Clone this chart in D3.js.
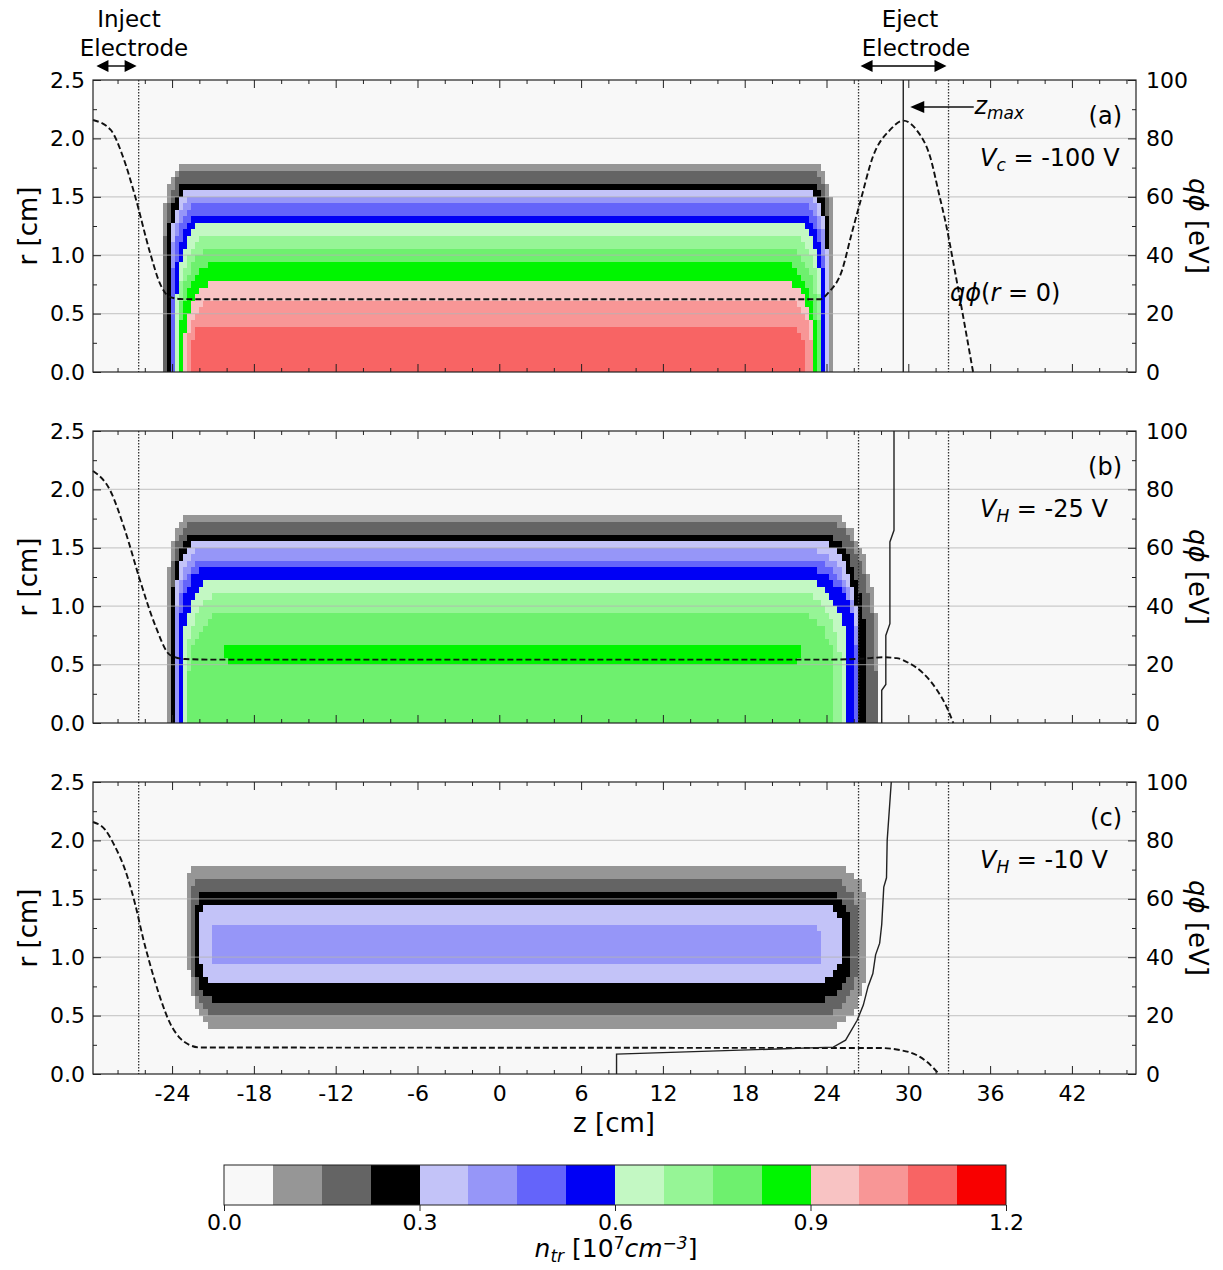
<!DOCTYPE html>
<html>
<head>
<meta charset="utf-8">
<script src="https://cdn.jsdelivr.net/npm/d3@7"></script>
<style>
  body { margin: 0; background: #fff; }
  text { font-family: "DejaVu Sans", sans-serif; fill: #000; }
</style>
</head>
<body>
<svg id="fig" width="1223" height="1270"></svg>
<script>
// colour levels of the density map, 0 .. 1.2 in steps of 0.075
const levelColors = ["#f8f8f8", "#969696", "#646464", "#000000",
                     "#c3c3f8", "#9696f8", "#6464fa", "#0000f5",
                     "#c3f8c3", "#96f596", "#6ef06e", "#00f500",
                     "#f8c3c3", "#f89696", "#f86464", "#f80000"];
const cbTicks = [0, 0.3, 0.6, 0.9, 1.2];

const zTicks = [-24, -18, -12, -6, 0, 6, 12, 18, 24, 30, 36, 42];
const rTicks = [0, 0.5, 1.0, 1.5, 2.0, 2.5];
const qTicks = [0, 20, 40, 60, 80, 100];
const electrodeZ = [-26.45, 26.35, 32.95];

// density contours, one row per level:
// level, rBottom, rTop, zLeft, zRight, topLeft(dz,dr), topRight(dz,dr), bottomLeft(dz,dr), bottomRight(dz,dr)
const contoursA = [
  [1, 0, 1.79, -24.7, 24.5, 1.8, 0.55, 1.7, 0.5, 0, 0, 0, 0],
  [2, 0, 1.74, -24.55, 24.3, 1.9, 0.6, 1.6, 0.55, 0, 0, 0, 0],
  [3, 0, 1.63, -24.4, 24.25, 1.7, 0.6, 1.5, 0.6, 0, 0, 0, 0],
  [4, 0, 1.57, -24.2, 24.1, 1.7, 0.65, 1.5, 0.65, 0, 0, 0, 0],
  [5, 0, 1.51, -24.1, 24.0, 1.7, 0.7, 1.5, 0.7, 0, 0, 0, 0],
  [6, 0, 1.45, -24.0, 23.9, 1.8, 0.75, 1.6, 0.75, 0, 0, 0, 0],
  [7, 0, 1.35, -23.9, 23.9, 1.9, 0.75, 1.7, 0.8, 0, 0, 0, 0],
  [8, 0, 1.30, -23.7, 23.7, 2.1, 0.8, 1.9, 0.85, 0, 0, 0, 0],
  [9, 0, 1.19, -23.6, 23.6, 2.4, 0.75, 2.1, 0.8, 0, 0, 0, 0],
  [10, 0, 1.07, -23.5, 23.5, 2.7, 0.7, 2.4, 0.8, 0, 0, 0, 0],
  [11, 0, 0.97, -23.4, 23.4, 3.2, 0.65, 2.8, 0.85, 0, 0, 0, 0],
  [12, 0, 0.79, -23.1, 23.1, 2.6, 0.55, 2.4, 0.6, 0, 0, 0, 0],
  [13, 0, 0.62, -22.8, 22.9, 2.0, 0.4, 1.9, 0.45, 0, 0, 0, 0],
  [14, 0, 0.41, -22.55, 22.3, 1.0, 0.2, 1.2, 0.2, 0, 0, 0, 0]
];
const contoursB = [
  [1, 0, 1.78, -24.3, 27.95, 1.6, 0.55, 3.7, 1.35, 0, 0, 0, 0],
  [2, 0, 1.72, -24.15, 27.65, 1.7, 0.6, 3.6, 1.3, 0, 0, 0, 0],
  [3, 0, 1.61, -24.0, 26.95, 1.6, 0.6, 3.2, 1.05, 0, 0, 0, 0],
  [4, 0, 1.56, -23.85, 26.35, 1.6, 0.65, 3.0, 0.85, 0, 0, 0, 0],
  [5, 0, 1.48, -23.75, 26.2, 1.7, 0.7, 3.2, 0.8, 0, 0, 0, 0],
  [6, 0, 1.40, -23.65, 26.15, 1.8, 0.7, 3.4, 0.75, 0, 0, 0, 0],
  [7, 0, 1.32, -23.55, 26.1, 1.9, 0.7, 3.7, 0.6, 0, 0, 0, 0],
  [8, 0, 1.23, -23.25, 25.5, 2.2, 0.7, 3.4, 0.6, 0, 0, 0, 0],
  [9, 0, 1.12, -23.0, 25.0, 2.6, 0.7, 3.2, 0.6, 0, 0, 0, 0],
  [10, 0, 0.96, -22.8, 24.6, 2.9, 0.6, 3.0, 0.5, 0, 0, 0, 0],
  [11, 0.52, 0.67, -20.2, 22.2, 0.4, 0.05, 0.6, 0.05, 0.4, 0.05, 0.6, 0.05]
];
const contoursC = [
  [1, 0.39, 1.78, -22.9, 27.0, 1.0, 0.15, 2.5, 0.35, 1.9, 0.8, 3.0, 0.6],
  [2, 0.50, 1.67, -22.6, 26.3, 0.8, 0.15, 2.2, 0.35, 1.6, 0.55, 2.6, 0.5],
  [3, 0.62, 1.56, -22.3, 25.8, 0.9, 0.2, 2.0, 0.3, 1.5, 0.4, 2.5, 0.4],
  [4, 0.79, 1.45, -22.0, 25.2, 0.8, 0.2, 1.8, 0.2, 1.0, 0.3, 2.0, 0.3],
  [5, 0.95, 1.28, -21.1, 23.7, 0.6, 0.07, 1.0, 0.1, 0.5, 0.05, 0.5, 0.05]
];

// on-axis potential q*phi(r=0) [eV] along z [cm]
const potZA = [-29.8, -28.5, -27.6, -26.7, -25.6, -24.9, -24.2, -23.4, -22, 0, 22, 23.5, 24.2, 25.1, 25.85, 26.46, 27.4, 28.66, 29.63, 30.6, 31.6, 32.3, 32.7, 33.4, 34.2, 34.75];
const potA  = [86.3, 82.9, 73.7, 60, 40.6, 30.4, 25.8, 25.0, 24.9, 24.9, 24.9, 24.9, 27.5, 34.3, 47.5, 58, 73.7, 82.9, 86.1, 82.9, 73.7, 60, 52, 35, 14.4, 0];
const potZB = [-29.8, -28.56, -27.46, -26.36, -25.25, -24.15, -23.05, -21, 0, 24, 26.5, 28.2, 29.15, 30.1, 31.1, 32.1, 32.8, 33.3];
const potB  = [86.3, 79.8, 66.1, 49, 33.6, 23.3, 21.9, 21.7, 21.7, 21.7, 22.0, 22.5, 22.2, 20.4, 17, 11.3, 5.6, 0];
const potZC = [-29.8, -28.9, -28.2, -27.45, -26.7, -26.1, -25.6, -24.9, -24.15, -23.4, -22.7, -21.95, 0, 27.9, 29.4, 30.6, 31.35, 32.25];
const potC  = [86.3, 83.6, 78, 70, 58, 46, 37.3, 26.5, 17.4, 12.2, 9.9, 9.1, 9.0, 8.9, 8.2, 6.5, 4.2, 0];

// z_max(r) of the trapped particles
const zmaxZA = [29.63, 29.63];
const zmaxRA = [0, 2.5];
const zmaxZB = [28.05, 28.05, 28.35, 28.35, 28.65, 28.65, 28.95, 28.95];
const zmaxRB = [0, 0.28, 0.33, 0.75, 0.85, 1.55, 1.65, 2.5];
const zmaxZC = [8.6, 8.6, 24.5, 25.4, 26.25, 26.7, 27.05, 27.4, 27.6, 27.9, 28.05, 28.2, 28.4, 28.45, 28.75];
const zmaxRC = [0, 0.17, 0.23, 0.29, 0.46, 0.59, 0.75, 0.86, 1.02, 1.12, 1.28, 1.6, 1.68, 2.0, 2.5];

const panelLabels = ["(a)", "(b)", "(c)"];
const voltSub = ["c", "H", "H"];
const voltText = ["-100 V", "-25 V", "-10 V"];

// ---------------------------------------------------------------
const svg = d3.select("#fig");
const left = 93, right = 1136, panelH = 292;
const panelTop = [80, 431, 782];

const x = d3.scaleLinear().domain([-29.8, 46.7]).range([left, right]);

// sampling grid of the simulation (0.3 cm x 2.5/45 cm)
const dz = 0.3, nZ = 255, nR = 45, dr = 2.5 / nR;

function outline(row) {
  const [lvl, rb, rt, zl, zr, tlz, tlr, trz, trr, blz, blr, brz, brr] = row;
  const ts = d3.range(9).map(k => k / 8 * Math.PI / 2);
  const pts = [];
  if (rb <= 0) pts.push([zl, -0.2]);
  else ts.forEach(t => pts.push([zl + blz * (1 - Math.sin(t)), rb + blr * (1 - Math.cos(t))]));
  ts.forEach(t => pts.push([zl + tlz * (1 - Math.cos(t)), rt - tlr * (1 - Math.sin(t))]));
  ts.forEach(t => pts.push([zr - trz * (1 - Math.sin(t)), rt - trr * (1 - Math.cos(t))]));
  if (rb <= 0) pts.push([zr, -0.2]);
  else ts.forEach(t => pts.push([zr - brz * (1 - Math.cos(t)), rb + brr * (1 - Math.sin(t))]));
  return pts;
}

function levelGrid(contours) {
  const polys = contours.map(c => ({ lvl: c[0], poly: outline(c) }));
  const runs = [];
  for (let j = 0; j < nR; j++) {
    const rc = (j + 0.5) * dr;
    let start = 0, cur = -1;
    for (let i = 0; i <= nZ; i++) {
      let lv = -1;
      if (i < nZ) {
        const zc = x.domain()[0] + (i + 0.5) * dz;
        lv = 0;
        polys.forEach(p => { if (p.lvl > lv && d3.polygonContains(p.poly, [zc, rc])) lv = p.lvl; });
      }
      if (lv !== cur) {
        if (cur > 0) runs.push({ j: j, i0: start, i1: i, lvl: cur });
        cur = lv; start = i;
      }
    }
  }
  return runs;
}

function richText(sel, parts) {
  parts.forEach(p => {
    const t = sel.append("tspan").text(p.t);
    if (p.i) t.style("font-style", "italic");
    if (p.s) t.attr("font-size", p.s);
    if (p.dy) t.attr("dy", p.dy);
  });
  return sel;
}

function styleAxis(g, size) {
  g.select(".domain").remove();
  g.selectAll(".tick line").attr("stroke", "#222").attr("stroke-width", 1);
  g.selectAll(".tick text").attr("font-size", size).attr("fill", "#000")
    .attr("font-family", '"DejaVu Sans", sans-serif');
}

const panels = [
  { c: contoursA, pz: potZA, pq: potA, mz: zmaxZA, mr: zmaxRA },
  { c: contoursB, pz: potZB, pq: potB, mz: zmaxZB, mr: zmaxRB },
  { c: contoursC, pz: potZC, pq: potC, mz: zmaxZC, mr: zmaxRC }
];

const zMinor = d3.range(-28, 47, 2).filter(v => zTicks.indexOf(v) < 0);
const rMinor = [0.25, 0.75, 1.25, 1.75, 2.25];
const qMinor = [10, 30, 50, 70, 90];

panels.forEach((P, k) => {
  const top = panelTop[k], bottom = top + panelH;
  const y = d3.scaleLinear().domain([0, 2.5]).range([bottom, top]);
  const yq = d3.scaleLinear().domain([0, 100]).range([bottom, top]);
  const g = svg.append("g");

  g.append("rect").attr("x", left).attr("y", top).attr("width", right - left).attr("height", panelH)
    .attr("fill", levelColors[0]);

  // density cells
  g.append("g").attr("shape-rendering", "crispEdges")
    .selectAll("rect").data(levelGrid(P.c)).join("rect")
    .attr("x", d => x(x.domain()[0] + d.i0 * dz))
    .attr("width", d => x(x.domain()[0] + d.i1 * dz) - x(x.domain()[0] + d.i0 * dz))
    .attr("y", d => y((d.j + 1) * dr))
    .attr("height", d => y(d.j * dr) - y((d.j + 1) * dr))
    .attr("fill", d => levelColors[d.lvl]);

  // horizontal grid
  g.append("g").selectAll("line").data([0.5, 1.0, 1.5, 2.0]).join("line")
    .attr("x1", left).attr("x2", right)
    .attr("y1", d => y(d)).attr("y2", d => y(d))
    .attr("stroke", "#b4b4b4").attr("stroke-opacity", 0.65).attr("stroke-width", 1.2);

  // electrode edges
  g.append("g").selectAll("line").data(electrodeZ).join("line")
    .attr("x1", d => x(d)).attr("x2", d => x(d)).attr("y1", top).attr("y2", bottom)
    .attr("stroke", "#333").attr("stroke-width", 1.3).attr("stroke-dasharray", "1.4,1.6");

  // on-axis potential
  const pot = d3.line().x(d => x(d[0])).y(d => yq(d[1])).curve(d3.curveMonotoneX);
  g.append("path").datum(P.pz.map((z, i) => [z, P.pq[i]]))
    .attr("d", pot).attr("fill", "none").attr("stroke", "#111")
    .attr("stroke-width", 1.9).attr("stroke-dasharray", "6,3");

  // z_max line
  const zl = d3.line().x(d => x(d[0])).y(d => y(d[1]));
  g.append("path").datum(P.mz.map((z, i) => [z, P.mr[i]]))
    .attr("d", zl).attr("fill", "none").attr("stroke", "#222").attr("stroke-width", 1.4);

  // frame
  g.append("rect").attr("x", left).attr("y", top).attr("width", right - left).attr("height", panelH)
    .attr("fill", "none").attr("stroke", "#222").attr("stroke-width", 1.2);

  // axes with inward ticks
  const ab = g.append("g").attr("transform", `translate(0,${bottom})`)
    .call(d3.axisBottom(x).tickValues(zTicks).tickSize(-8).tickPadding(11)
      .tickFormat(k === 2 ? (d => String(d)) : ""));
  styleAxis(ab, 22);
  styleAxis(g.append("g").attr("transform", `translate(0,${bottom})`)
    .call(d3.axisBottom(x).tickValues(zMinor).tickSize(-4).tickFormat("")), 22);
  styleAxis(g.append("g").attr("transform", `translate(0,${top})`)
    .call(d3.axisTop(x).tickValues(zTicks).tickSize(-8).tickFormat("")), 22);
  styleAxis(g.append("g").attr("transform", `translate(0,${top})`)
    .call(d3.axisTop(x).tickValues(zMinor).tickSize(-4).tickFormat("")), 22);
  styleAxis(g.append("g").attr("transform", `translate(${left},0)`)
    .call(d3.axisLeft(y).tickValues(rTicks).tickSize(-8).tickPadding(8).tickFormat(d3.format(".1f"))), 22);
  styleAxis(g.append("g").attr("transform", `translate(${left},0)`)
    .call(d3.axisLeft(y).tickValues(rMinor).tickSize(-4).tickFormat("")), 22);
  styleAxis(g.append("g").attr("transform", `translate(${right},0)`)
    .call(d3.axisRight(yq).tickValues(qTicks).tickSize(-8).tickPadding(10)), 22);
  styleAxis(g.append("g").attr("transform", `translate(${right},0)`)
    .call(d3.axisRight(yq).tickValues(qMinor).tickSize(-4).tickFormat("")), 22);

  // axis titles
  const cy = (top + bottom) / 2;
  g.append("text").attr("transform", `translate(37,${cy}) rotate(-90)`)
    .attr("text-anchor", "middle").attr("font-size", 26).text("r [cm]");
  richText(g.append("text").attr("transform", `translate(1189,${cy}) rotate(90)`)
    .attr("text-anchor", "middle").attr("font-size", 26),
    [{ t: "qϕ", i: true }, { t: " [eV]" }]);

  // panel labels
  g.append("text").attr("x", 1122).attr("y", top + 44).attr("text-anchor", "end")
    .attr("font-size", 24).text(panelLabels[k]);
  richText(g.append("text").attr("x", 980).attr("y", top + 86).attr("font-size", 24),
    [{ t: "V", i: true }, { t: voltSub[k], i: true, s: 17, dy: 5 }, { t: " = " + voltText[k], dy: -5 }]);
});

// annotations of panel (a)
svg.append("line").attr("x1", x(29.63) + 20).attr("x2", x(34.8)).attr("y1", 107).attr("y2", 107)
  .attr("stroke", "#111").attr("stroke-width", 1.3);
svg.append("path")
  .attr("d", `M${x(29.63) + 7},107 l14,-6 l0,12 z`).attr("fill", "#000");
richText(svg.append("text").attr("x", x(34.85)).attr("y", 114).attr("font-size", 24),
  [{ t: "z", i: true }, { t: "max", i: true, s: 17, dy: 5 }]);
richText(svg.append("text").attr("x", 950).attr("y", 301).attr("font-size", 24),
  [{ t: "qϕ", i: true }, { t: "(" }, { t: "r", i: true }, { t: " = 0)" }]);

// electrode annotations above the top panel
function doubleArrow(z0, z1, yy) {
  const a = x(z0), b = x(z1);
  svg.append("line").attr("x1", a + 8).attr("x2", b - 8).attr("y1", yy).attr("y2", yy)
    .attr("stroke", "#000").attr("stroke-width", 1.4);
  svg.append("path").attr("d", `M${a},${yy} l12,-6 l0,12 z`).attr("fill", "#000");
  svg.append("path").attr("d", `M${b},${yy} l-12,-6 l0,12 z`).attr("fill", "#000");
}
doubleArrow(-29.55, -26.6, 66);
doubleArrow(26.5, 32.8, 66);
[["Inject", 129, 27], ["Electrode", 134, 56], ["Eject", 910, 27], ["Electrode", 916, 56]]
  .forEach(t => svg.append("text").attr("x", t[1]).attr("y", t[2]).attr("text-anchor", "middle")
    .attr("font-size", 23).text(t[0]));

// x axis title
svg.append("text").attr("x", 614).attr("y", 1132).attr("text-anchor", "middle")
  .attr("font-size", 26).text("z [cm]");

// colour bar
const cb = d3.scaleLinear().domain([0, 1.2]).range([224, 1006]);
const step = 1.2 / levelColors.length;
svg.append("g").attr("shape-rendering", "crispEdges").selectAll("rect").data(levelColors).join("rect")
  .attr("x", (d, i) => cb(i * step)).attr("width", (d, i) => cb((i + 1) * step) - cb(i * step))
  .attr("y", 1165).attr("height", 40).attr("fill", d => d);
svg.append("rect").attr("x", cb(0)).attr("y", 1165).attr("width", cb(1.2) - cb(0)).attr("height", 40)
  .attr("fill", "none").attr("stroke", "#222").attr("stroke-width", 1);
const cba = svg.append("g").attr("transform", "translate(0,1205)")
  .call(d3.axisBottom(cb).tickValues(cbTicks).tickSize(6).tickPadding(3).tickFormat(d3.format(".1f")));
styleAxis(cba, 22);
richText(svg.append("text").attr("x", 616).attr("y", 1257).attr("text-anchor", "middle").attr("font-size", 25),
  [{ t: "n", i: true }, { t: "tr", i: true, s: 17, dy: 5 }, { t: " [10", dy: -5 }, { t: "7", s: 17, dy: -8 },
   { t: "cm", i: true, dy: 8 }, { t: "−3", i: true, s: 17, dy: -8 }, { t: "]", dy: 8 }]);
</script>
</body>
</html>
